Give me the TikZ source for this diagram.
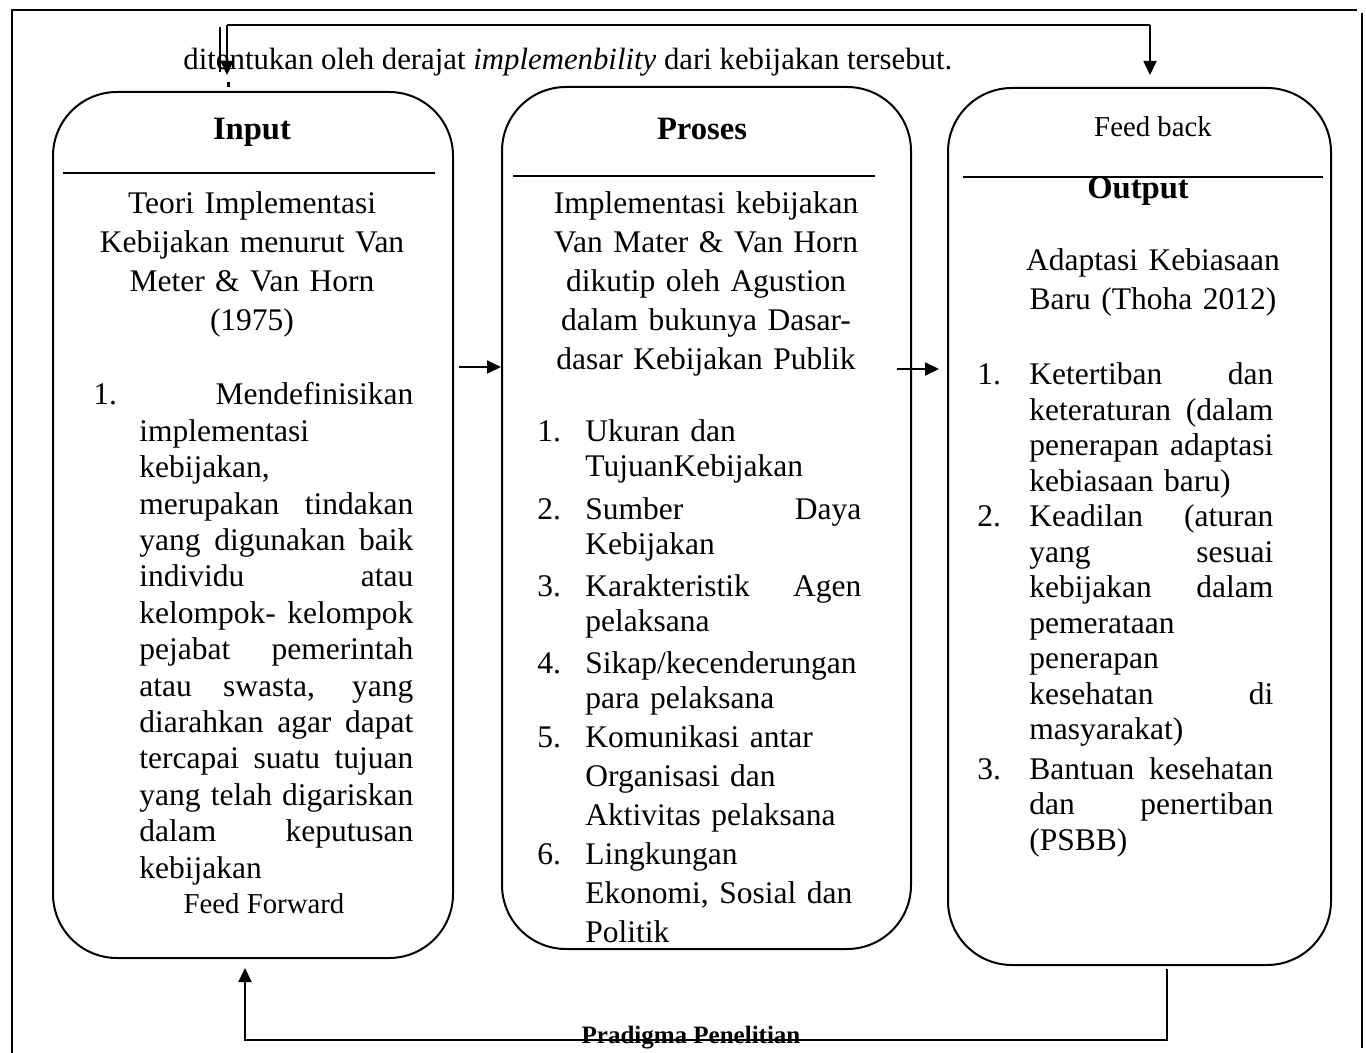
\documentclass[tikz,border=0pt]{standalone}
\usepackage{fontspec}
\setmainfont{Liberation Serif}
\usetikzlibrary{positioning,arrows.meta,calc}
\newlength{\numw}
\newcommand{\lnum}[2]{\makebox[\numw][l]{#1}#2}
\newcommand{\lcont}[1]{\hspace*{\numw}#1}
\newcommand{\ljust}[1]{\makebox[\dimexpr\hsize-\numw\relax][s]{\spaceskip=0.25em plus 1fil\relax #1}}
\tikzset{
  panel/.style={draw, line width=1pt, rounded corners=32pt, inner sep=0pt},
  sig/.style={-{Triangle[length=7pt,width=6.5pt]}, line width=0.9pt},
  rule/.style={line width=0.9pt},
  body/.style={font=\fontsize{15.75pt}{19.4pt}\selectfont, inner sep=0pt, align=center},
  lst/.style={font=\fontsize{15.75pt}{18.2pt}\selectfont, inner sep=0pt, align=left, execute at begin node={\setlength{\numw}{#1}}},
  note/.style={font=\fontsize{14.4pt}{16pt}\selectfont, inner sep=0pt},
  head/.style={font=\fontsize{16.3pt}{18pt}\selectfont\bfseries, inner sep=0pt},
}
\begin{document}
\begin{tikzpicture}[x=0.5pt, y=-0.5pt]
  \useasboundingbox (0,0) rectangle (1366,1053);
  % frame
  \draw[line width=0.8pt] (12,1053) -- (12,10) -- (1357,10);
  \draw[line width=0.8pt] (1362,13) -- (1362,1048);
  \node[body, font=\fontsize{15.4pt}{18pt}\selectfont, anchor=base west] (toptxt) at (183,70) {ditentukan oleh derajat \textit{implemenbility} dari kebijakan tersebut.};

  % three panels
  \node[panel, minimum width=200pt, minimum height=433pt] (inbox) at (253,525) {};
  \node[panel, minimum width=204.5pt, minimum height=431pt] (prbox) at (706.5,518) {};
  \node[panel, minimum width=191.5pt, minimum height=438.5pt] (outbox) at (1139.5,526.5) {};
  \draw[rule] (63,173) -- (435,173);
  \draw[rule] (513,176) -- (875,176);
  \draw[rule] (963,177) -- (1323,177);

  % input
  \node[head, anchor=base] (inhead) at (252,140) {Input};
  \node[body, text width=185pt, anchor=base] (intheory) at (252,214)
    {Teori Implementasi\\ Kebijakan menurut Van\\ Meter \& Van Horn\\ (1975)};
  \node[lst=23pt, text width=160pt, anchor=base west] (inlist) at (93,405) {%
    \lnum{1.}{\ljust{\hfill Mendefinisikan}}\\
    \lcont{implementasi}\\
    \lcont{kebijakan,}\\
    \lcont{\ljust{merupakan tindakan}}\\
    \lcont{\ljust{yang digunakan baik}}\\
    \lcont{\ljust{individu atau}}\\
    \lcont{\ljust{kelompok- kelompok}}\\
    \lcont{\ljust{pejabat pemerintah}}\\
    \lcont{\ljust{atau swasta, yang}}\\
    \lcont{\ljust{diarahkan agar dapat}}\\
    \lcont{\ljust{tercapai suatu tujuan}}\\
    \lcont{\ljust{yang telah digariskan}}\\
    \lcont{\ljust{dalam keputusan}}\\
    \lcont{kebijakan}};
  \node[note, anchor=base] (ffwd) at (264,913) {Feed Forward};

  % proses
  \node[head, anchor=base] (prhead) at (702,140) {Proses};
  \node[body, text width=185pt, anchor=base] (prtheory) at (706,214)
    {Implementasi kebijakan\\ Van Mater \& Van Horn\\ dikutip oleh Agustion\\ dalam bukunya Dasar-\\ dasar Kebijakan Publik};
  \node[lst=24pt, text width=162pt, anchor=base west, font=\fontsize{15.75pt}{17.5pt}\selectfont] (prlist) at (537,442) {%
    \lnum{1.}{Ukuran dan}\\
    \lcont{TujuanKebijakan}\\[4pt]
    \lnum{2.}{\ljust{Sumber Daya}}\\
    \lcont{Kebijakan}\\[3.5pt]
    \lnum{3.}{\ljust{Karakteristik Agen}}\\
    \lcont{pelaksana}\\[3.5pt]
    \lnum{4.}{Sikap/kecenderungan}\\
    \lcont{para pelaksana}\\[2pt]
    \lnum{5.}{Komunikasi antar}\\[2pt]
    \lcont{Organisasi dan}\\[2pt]
    \lcont{Aktivitas pelaksana}\\[2pt]
    \lnum{6.}{Lingkungan}\\[2pt]
    \lcont{Ekonomi, Sosial dan}\\[2pt]
    \lcont{Politik}};

  % output
  \node[note, anchor=base] (fbtxt) at (1153,137) {Feed back};
  \node[head, anchor=base] (outhead) at (1138,199) {Output};
  \node[body, text width=175pt, anchor=base] (outtheory) at (1153,271)
    {Adaptasi Kebiasaan\\ Baru (Thoha 2012)};
  \node[lst=26pt, text width=148pt, anchor=base west, font=\fontsize{15.75pt}{17.75pt}\selectfont] (outlist) at (977,385) {%
    \lnum{1.}{\ljust{Ketertiban dan}}\\
    \lcont{\ljust{keteraturan (dalam}}\\
    \lcont{\ljust{penerapan adaptasi}}\\
    \lcont{kebiasaan baru)}\\
    \lnum{2.}{\ljust{Keadilan (aturan}}\\
    \lcont{\ljust{yang sesuai}}\\
    \lcont{\ljust{kebijakan dalam}}\\
    \lcont{pemerataan}\\
    \lcont{penerapan}\\
    \lcont{\ljust{kesehatan di}}\\
    \lcont{masyarakat)}\\[2pt]
    \lnum{3.}{\ljust{Bantuan kesehatan}}\\
    \lcont{\ljust{dan penertiban}}\\
    \lcont{(PSBB)}};

  % flow between panels
  \coordinate (a1) at (459,367);
  \coordinate (a2) at (897,369);
  \draw[sig] (a1) -- (a1 -| prbox.west);
  \draw[sig] (a2) -- ([xshift=-4pt]a2 -| outbox.west);

  % feed back on top
  \coordinate (fl) at (227,25);
  \coordinate (fr) at (1150,25);
  \draw[rule] (fl) -- (fr);
  \draw[sig] (fl) -- ++(0,50);
  \draw[sig] (fr) -- ++(0,50);
  \draw[line width=0.6pt] (220,27) -- (220,72);
  \fill (226.5,82.5) rectangle (230,87);

  % feed forward below
  \coordinate (b1) at (1167,969);
  \coordinate (b2) at (245,1040);
  \draw[sig] (b1) -- (b1 |- b2) -- (b2) -- ++(0,-72);
  \node[note, font=\fontsize{12.5pt}{14pt}\selectfont\bfseries, anchor=base] (caption) at (691,1043) {Pradigma Penelitian};
\end{tikzpicture}
\end{document}
